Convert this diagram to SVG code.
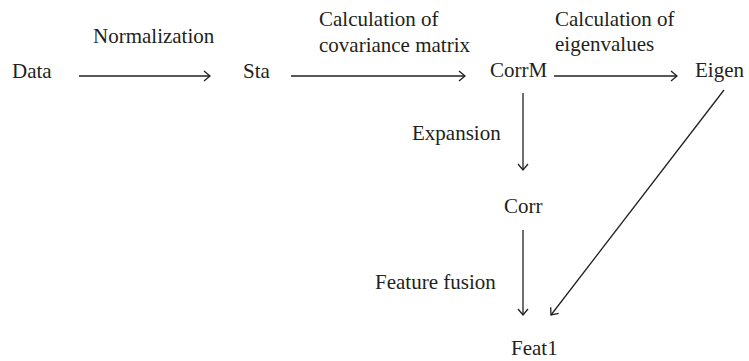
<svg xmlns="http://www.w3.org/2000/svg" width="749" height="361" viewBox="0 0 749 361">
<style>
.t{font-family:'Liberation Serif','Times New Roman',serif;font-size:21px;fill:#231f20}
.c{stroke:#231f20;stroke-width:1.3;fill:none}
</style>
<defs>
<marker id="ah" viewBox="0 0 10 12" refX="9" refY="6" markerWidth="10" markerHeight="12" markerUnits="userSpaceOnUse" orient="auto">
<path d="M3,1 L9,6 L3,11" fill="none" stroke="#231f20" stroke-width="1.3"/>
</marker>
</defs>
<rect width="749" height="361" fill="#fff"/>
<g id="connectors">
<line class="c" x1="79" y1="76" x2="210" y2="76" marker-end="url(#ah)"/>
<line class="c" x1="291" y1="76" x2="465" y2="76" marker-end="url(#ah)"/>
<line class="c" x1="554" y1="76" x2="677" y2="76" marker-end="url(#ah)"/>
<line class="c" x1="523" y1="93" x2="523" y2="170" marker-end="url(#ah)"/>
<line class="c" x1="523" y1="230" x2="523" y2="315" marker-end="url(#ah)"/>
<line class="c" x1="724" y1="90" x2="551" y2="315" marker-end="url(#ah)"/>
<g class="t">
<text x="93" y="43">Normalization</text>
<text x="319" y="26">Calculation of</text>
<text x="319" y="52">covariance matrix</text>
<text x="555" y="26">Calculation of</text>
<text x="555" y="51">eigenvalues</text>
<text x="412" y="140">Expansion</text>
<text x="375" y="289">Feature fusion</text>
</g>
</g>
<g class="t">
<g id="node-data"><text x="12" y="78">Data</text></g>
<g id="node-sta"><text x="243" y="78">Sta</text></g>
<g id="node-corrm"><text x="490" y="77">CorrM</text></g>
<g id="node-eigen"><text x="695" y="77">Eigen</text></g>
<g id="node-corr"><text x="504" y="213">Corr</text></g>
<g id="node-feat1"><text x="511" y="355">Feat1</text></g>
</g>
</svg>
